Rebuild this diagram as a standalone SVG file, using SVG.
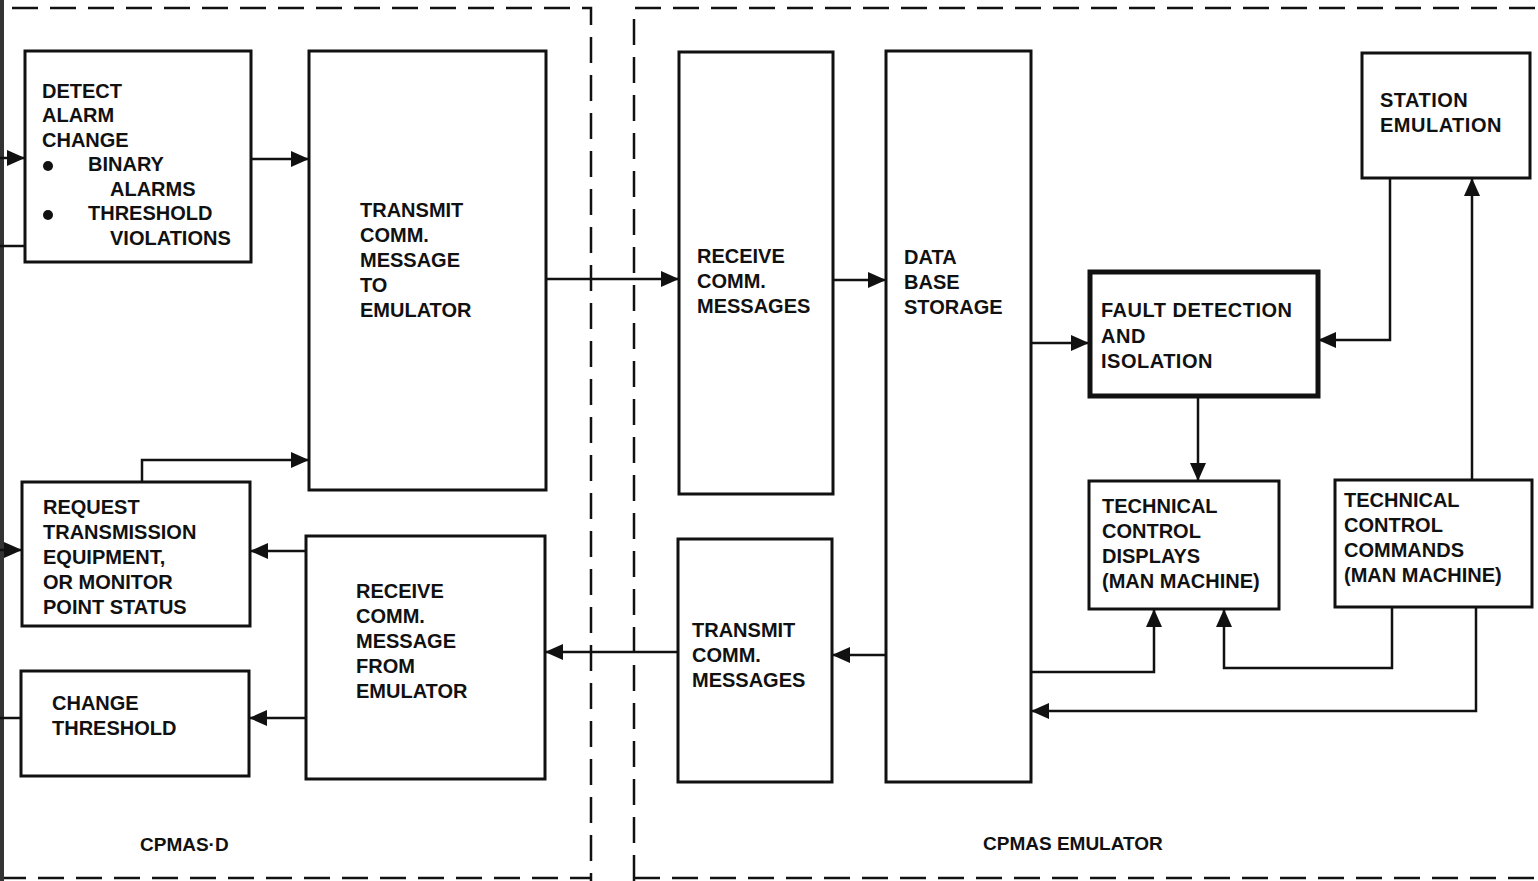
<svg xmlns="http://www.w3.org/2000/svg" width="1538" height="881" viewBox="0 0 1538 881">
<style>
.bx{fill:#fff;stroke:#111;stroke-width:3}
.bt{fill:#fff;stroke:#111;stroke-width:5}
.ln{fill:none;stroke:#111;stroke-width:2.5}
.ds{fill:none;stroke:#111;stroke-width:2.5;stroke-dasharray:26 12}
text{font-family:"Liberation Sans",Arial,sans-serif;font-weight:bold;font-size:20px;fill:#111}
.wide{letter-spacing:0.5px}
.lb{font-size:19px}
</style>
<defs>
<marker id="a" viewBox="0 0 18 16" refX="18" refY="8" markerWidth="18" markerHeight="16" orient="auto" markerUnits="userSpaceOnUse">
<path d="M0,0 L18,8 L0,16 z" fill="#111"/>
</marker>
</defs>
<rect width="1538" height="881" fill="#fff"/>
<g id="frames">
<path class="ds" d="M12,8 H591 V881"/>
<path class="ds" d="M634,881 V8 H1538"/>
<path class="ds" d="M0,878 H591"/>
<path class="ds" d="M634,878 H1538"/>
<path d="M1,0 V881" stroke="#333" stroke-width="6"/>
</g>
<g id="connectors">
<path class="ln" d="M0,158 H25" marker-end="url(#a)"/>
<path class="ln" d="M0,246 H25"/>
<path class="ln" d="M0,550 H22" marker-end="url(#a)"/>
<path class="ln" d="M0,718 H21"/>
<path class="ln" d="M251,159 H309" marker-end="url(#a)"/>
<path class="ln" d="M142,482 V460 H309" marker-end="url(#a)"/>
<path class="ln" d="M546,279 H679" marker-end="url(#a)"/>
<path class="ln" d="M833,280 H886" marker-end="url(#a)"/>
<path class="ln" d="M1031,343 H1089" marker-end="url(#a)"/>
<path class="ln" d="M1390,178 V340 H1318" marker-end="url(#a)"/>
<path class="ln" d="M1198,397 V481" marker-end="url(#a)"/>
<path class="ln" d="M1472,480 V178" marker-end="url(#a)"/>
<path class="ln" d="M1031,672 H1154 V609" marker-end="url(#a)"/>
<path class="ln" d="M1392,607 V668 H1224 V609" marker-end="url(#a)"/>
<path class="ln" d="M1476,607 V711 H1031" marker-end="url(#a)"/>
<path class="ln" d="M886,655 H832" marker-end="url(#a)"/>
<path class="ln" d="M678,652 H545" marker-end="url(#a)"/>
<path class="ln" d="M306,551 H250" marker-end="url(#a)"/>
<path class="ln" d="M306,718 H249" marker-end="url(#a)"/>
</g>
<g id="detect">
<rect class="bx" x="25" y="51" width="226" height="211"/>
<text x="42" y="98">DETECT</text>
<text x="42" y="122">ALARM</text>
<text x="42" y="147">CHANGE</text>
<circle cx="48" cy="166" r="5" fill="#111"/>
<text x="88" y="171">BINARY</text>
<text x="110" y="196">ALARMS</text>
<circle cx="48" cy="215" r="5" fill="#111"/>
<text x="88" y="220">THRESHOLD</text>
<text x="110" y="245">VIOLATIONS</text>
</g>
<g id="transmit-to-emulator">
<rect class="bx" x="309" y="51" width="237" height="439"/>
<text x="360" y="217">TRANSMIT</text>
<text x="360" y="242">COMM.</text>
<text x="360" y="267">MESSAGE</text>
<text x="360" y="292">TO</text>
<text x="360" y="317">EMULATOR</text>
</g>
<g id="request">
<rect class="bx" x="22" y="482" width="228" height="144"/>
<text x="43" y="514">REQUEST</text>
<text x="43" y="539">TRANSMISSION</text>
<text x="43" y="564">EQUIPMENT,</text>
<text x="43" y="589">OR MONITOR</text>
<text x="43" y="614">POINT STATUS</text>
</g>
<g id="change-threshold">
<rect class="bx" x="21" y="671" width="228" height="105"/>
<text x="52" y="710">CHANGE</text>
<text x="52" y="735">THRESHOLD</text>
</g>
<g id="receive-from-emulator">
<rect class="bx" x="306" y="536" width="239" height="243"/>
<text x="356" y="598">RECEIVE</text>
<text x="356" y="623">COMM.</text>
<text x="356" y="648">MESSAGE</text>
<text x="356" y="673">FROM</text>
<text x="356" y="698">EMULATOR</text>
</g>
<g id="receive-comm">
<rect class="bx" x="679" y="52" width="154" height="442"/>
<text x="697" y="263">RECEIVE</text>
<text x="697" y="288">COMM.</text>
<text x="697" y="313">MESSAGES</text>
</g>
<g id="transmit-comm">
<rect class="bx" x="678" y="539" width="154" height="243"/>
<text x="692" y="637">TRANSMIT</text>
<text x="692" y="662">COMM.</text>
<text x="692" y="687">MESSAGES</text>
</g>
<g id="database">
<rect class="bx" x="886" y="51" width="145" height="731"/>
<text x="904" y="264">DATA</text>
<text x="904" y="289">BASE</text>
<text x="904" y="314">STORAGE</text>
</g>
<g id="fault">
<rect class="bt" x="1090" y="272" width="228" height="124"/>
<text class="wide" x="1101" y="317">FAULT DETECTION</text>
<text class="wide" x="1101" y="343">AND</text>
<text class="wide" x="1101" y="368">ISOLATION</text>
</g>
<g id="station">
<rect class="bx" x="1362" y="53" width="168" height="125"/>
<text class="wide" x="1380" y="107">STATION</text>
<text class="wide" x="1380" y="132">EMULATION</text>
</g>
<g id="displays">
<rect class="bx" x="1089" y="481" width="190" height="128"/>
<text x="1102" y="513">TECHNICAL</text>
<text x="1102" y="538">CONTROL</text>
<text x="1102" y="563">DISPLAYS</text>
<text x="1102" y="588">(MAN MACHINE)</text>
</g>
<g id="commands">
<rect class="bx" x="1335" y="480" width="197" height="127"/>
<text x="1344" y="507">TECHNICAL</text>
<text x="1344" y="532">CONTROL</text>
<text x="1344" y="557">COMMANDS</text>
<text x="1344" y="582">(MAN MACHINE)</text>
</g>
<g id="labels">
<text class="lb" x="140" y="851">CPMAS·D</text>
<text class="lb" x="983" y="850">CPMAS EMULATOR</text>
</g>
</svg>
